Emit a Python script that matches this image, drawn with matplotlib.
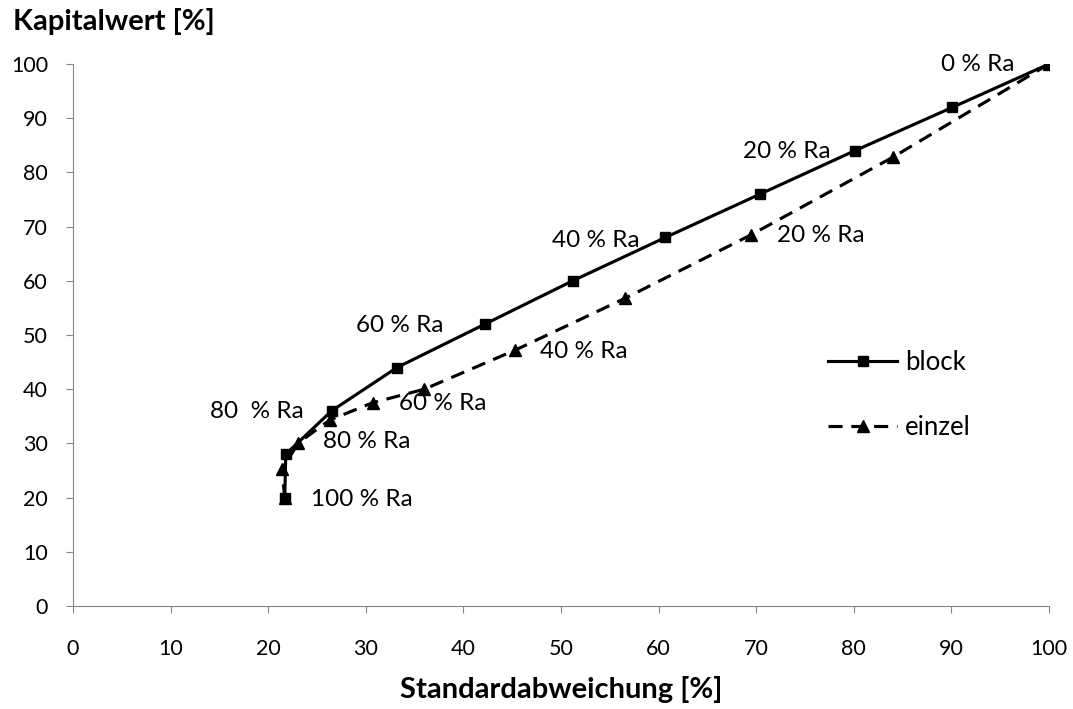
import matplotlib.pyplot as plt

plt.rcParams['font.family'] = ['Lato', 'DejaVu Sans']

# block
block_x = [100, 90.1, 80.1, 70.4, 60.7, 51.2, 42.2, 33.2, 26.5, 21.8, 21.7]
block_y = [100, 92, 84, 76, 68, 60, 52, 44, 36, 28, 20]
# einzel
einzel_x = [100, 84.0, 69.5, 56.6, 45.3, 36.0, 30.7, 26.3, 23.1, 21.4, 21.7]
einzel_y = [100, 82.8, 68.5, 56.8, 47.2, 40.0, 37.5, 34.3, 30.1, 25.2, 20]

labels_block = ["0 % Ra", "20 % Ra", "40 % Ra", "60 % Ra", "80  % Ra", "100 % Ra"]
labels_block_xy = [(92.7, 100), (73.1, 83.8), (53.6, 67.4), (33.5, 51.8), (18.8, 35.8), (29.6, 19.6)]
labels_einzel = ["20 % Ra", "40 % Ra", "60 % Ra", "80 % Ra"]
labels_einzel_xy = [(76.6, 68.3), (52.3, 47.0), (37.9, 37.3), (30.1, 30.3)]

fig = plt.figure(figsize=(10.73, 7.09), dpi=100)
ax = fig.add_axes([0.068, 0.1453, 0.9096, 0.7644])

ax.plot(block_x, block_y, color='black', lw=2.25, marker='s', ms=7, label='block')
ax.plot(einzel_x, einzel_y, color='black', lw=2.25, ls=(0, (4.5, 2.8)), marker='^', ms=8, label='einzel')

for t, (x, y) in zip(labels_block, labels_block_xy):
    ax.text(x, y, t, fontsize=17.5, ha='center', va='center')
for t, (x, y) in zip(labels_einzel, labels_einzel_xy):
    ax.text(x, y, t, fontsize=17.5, ha='center', va='center')

ax.set_xlim(0, 100)
ax.set_ylim(0, 100)
ax.set_xticks(range(0, 101, 10))
ax.set_yticks(range(0, 101, 10))
ax.tick_params(labelsize=15.5, color='#868686', length=5)
ax.tick_params(axis='x', pad=19)
ax.tick_params(axis='y', pad=13)
for s in ['top', 'right']:
    ax.spines[s].set_visible(False)
for s in ['left', 'bottom']:
    ax.spines[s].set_color('#868686')

fig.text(0.523, 0.028, "Standardabweichung [%]", fontsize=21, fontweight='bold', ha='center', va='center')
fig.text(0.012, 0.969, "Kapitalwert [%]", fontsize=21, fontweight='bold', ha='left', va='center')

ax.legend(loc='center left', bbox_to_anchor=(0.7736, 0.39), frameon=False, fontsize=18.5,
          labelspacing=1.55, handlelength=2.7, handletextpad=0.3, borderpad=0, borderaxespad=0)

fig.savefig('out.png', dpi=100)
